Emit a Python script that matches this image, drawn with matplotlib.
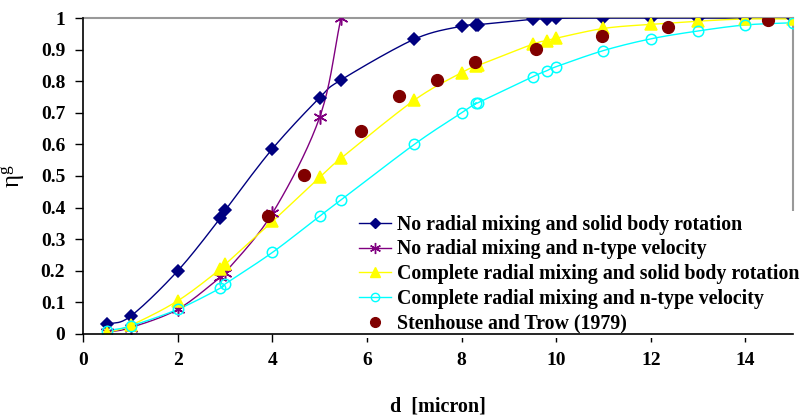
import numpy as np
import matplotlib.pyplot as plt

plt.rcParams["font.family"] = ["Liberation Serif", "DejaVu Serif"]
plt.rcParams["mathtext.fontset"] = "stix"

# particle diameter [micron] and grade efficiency for each model
d_solid = [0.5, 1, 2, 2.9, 3, 4, 5, 5.45, 7, 8, 8.3, 8.35, 9.5, 9.8, 10, 11, 12, 13, 14, 15]
eta_nomix_solid = [0.03, 0.056, 0.2, 0.367, 0.391, 0.586, 0.748, 0.804, 0.933, 0.974,
                   0.978, 0.979, 0.996, 0.996, 0.999, 1.0, 1.0, 1.0, 1.0, 1.0]

d_ntype = [0.5, 1, 2, 2.9, 3, 4, 5, 5.45]
eta_nomix_ntype = [0.005, 0.02, 0.078, 0.18, 0.194, 0.382, 0.686, 1.0]

eta_mix_solid = [0.004, 0.027, 0.105, 0.205, 0.22, 0.356, 0.496, 0.556, 0.74, 0.827,
                 0.848, 0.85, 0.917, 0.928, 0.936, 0.967, 0.98, 0.99, 0.997, 0.997]

eta_mix_ntype = [0.01, 0.025, 0.078, 0.145, 0.158, 0.258, 0.373, 0.424, 0.6, 0.7,
                 0.73, 0.732, 0.814, 0.833, 0.846, 0.897, 0.934, 0.959, 0.978, 0.985]

# Stenhouse and Trow (1979) measurements
d_exp = [3.9, 4.67, 5.88, 6.68, 7.49, 8.28, 9.57, 10.97, 12.37, 14.47]
eta_exp = [0.374, 0.503, 0.643, 0.753, 0.804, 0.862, 0.902, 0.944, 0.97, 0.994]


def smooth(x, y, n=20):
    # Catmull-Rom curve through the points (like a smoothed spreadsheet line)
    x = np.asarray(x, float)
    y = np.asarray(y, float)
    px = np.concatenate([[2 * x[0] - x[1]], x, [2 * x[-1] - x[-2]]])
    py = np.concatenate([[2 * y[0] - y[1]], y, [2 * y[-1] - y[-2]]])
    t = np.linspace(0, 1, n, endpoint=False)
    xs, ys = [], []
    for i in range(1, len(px) - 2):
        for arr, out in ((px, xs), (py, ys)):
            p0, p1, p2, p3 = arr[i - 1], arr[i], arr[i + 1], arr[i + 2]
            out.extend(0.5 * (2 * p1 + (-p0 + p2) * t + (2 * p0 - 5 * p1 + 4 * p2 - p3) * t ** 2
                              + (-p0 + 3 * p1 - 3 * p2 + p3) * t ** 3))
    xs.append(x[-1])
    ys.append(y[-1])
    return xs, ys


star = (6, 2, 0)

fig = plt.figure(figsize=(8.08, 4.19), dpi=100)
ax = fig.add_axes([0.103, 0.203, 0.878, 0.754])

series = [
    (d_solid, eta_nomix_solid, "#000080", "D", "#000080", 6.5, "No radial mixing and solid body rotation"),
    (d_ntype, eta_nomix_ntype, "#800080", star, "#800080", 10, "No radial mixing and n-type velocity"),
    (d_solid, eta_mix_solid, "#ffff00", "^", "#ffff00", 9, "Complete radial mixing and solid body rotation"),
    (d_solid, eta_mix_ntype, "#00ffff", "o", "none", 7.5, "Complete radial mixing and n-type velocity"),
]
for x, y, c, m, fc, ms, lab in series:
    sx, sy = smooth(x, y)
    ax.plot(sx, sy, color=c, lw=1, zorder=3)
    ax.plot(x, y, ls="none", marker=m, ms=ms, mfc=fc, mec=c, mew=1.1, zorder=4)
    ax.plot([], [], color=c, lw=1, marker=m, ms=ms * 0.8, mfc=fc, mec=c, label=lab)

ax.plot(d_exp, eta_exp, ls="none", marker="o", ms=8.5, color="#800000", zorder=4)
ax.plot([], [], ls="none", marker="o", ms=7, color="#800000", label="Stenhouse and Trow (1979)")

ax.set_xlim(0, 15)
ax.set_ylim(0, 1)
ax.set_xticks(np.arange(0, 15, 2))
ax.set_yticks(np.round(np.arange(0, 1.01, 0.1), 1))
ax.set_yticklabels(["0", "0.1", "0.2", "0.3", "0.4", "0.5", "0.6", "0.7", "0.8", "0.9", "1"])
ax.tick_params(direction="out", length=6, width=1, labelsize=14, pad=7, color="black")
for lbl in ax.get_xticklabels() + ax.get_yticklabels():
    lbl.set_fontweight("bold")

for side in ("top", "right"):
    ax.spines[side].set_color("#999999")
    ax.spines[side].set_linewidth(1.5)
for side in ("left", "bottom"):
    ax.spines[side].set_linewidth(1.2)
    ax.spines[side].set_zorder(6)

ax.set_xlabel("d  [micron]", fontsize=14.5, fontweight="bold", labelpad=20)
ax.set_ylabel(r"$\mathregular{\eta}^{\mathregular{g}}$", fontsize=18, labelpad=10)

leg = ax.legend(loc="upper left", bbox_to_anchor=(0.383, 0.39), frameon=True,
                facecolor="white", edgecolor="none", framealpha=1, fancybox=False,
                prop={"weight": "bold", "size": 14.3}, handlelength=1.6, handletextpad=0.3,
                labelspacing=0.24, borderpad=0.2, borderaxespad=0)
leg.set_zorder(5)

fig.savefig("out.png", dpi=100)
